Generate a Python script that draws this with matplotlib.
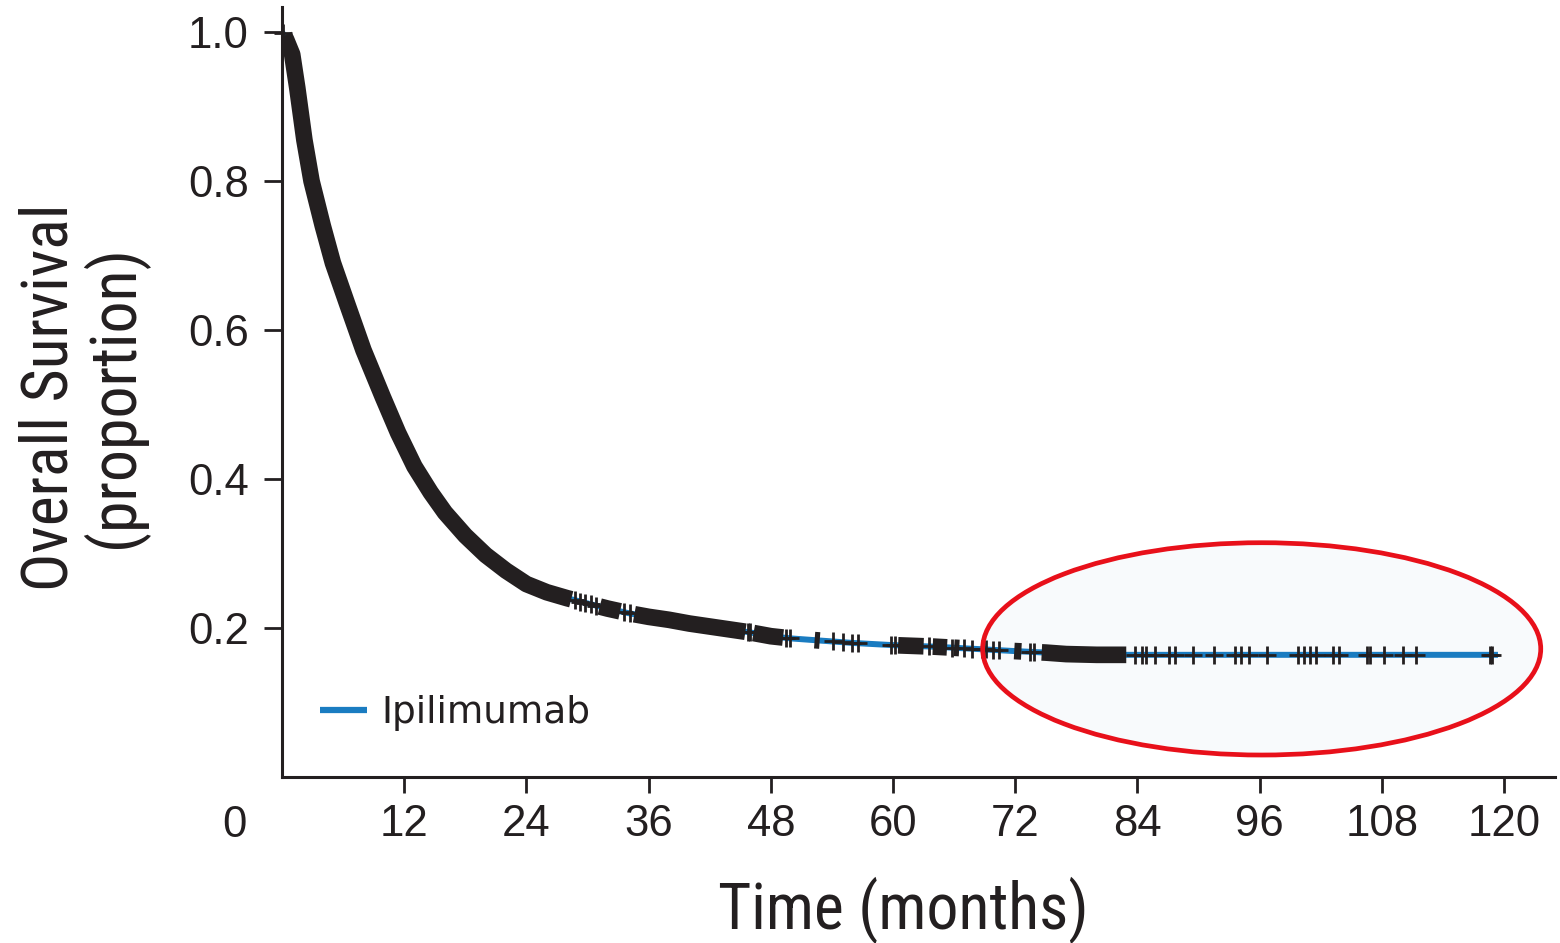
import numpy as np
import matplotlib
matplotlib.use("Agg")
import matplotlib.pyplot as plt
from matplotlib.patches import Ellipse
from matplotlib import font_manager

# Kaplan-Meier overall survival estimate (months, proportion alive)
time_months = [0, 0.4, 1.0, 1.5, 2.2, 2.9, 4.0, 5.0, 6.4, 8.0, 9.9, 11.4, 13.0,
               14.6, 16.0, 18.0, 20.0, 22.0, 24.0, 26.0, 28.0, 30.0, 32.0, 34.0,
               36.0, 38.0, 40.0, 42.0, 44.0, 46.0, 48.0, 50.0, 53.0, 56.0, 60.0,
               64.0, 68.0, 72.0, 75.0, 77.0, 80.0, 90.0, 100.0, 110.0, 119.4]
survival = [1.0, 0.99, 0.97, 0.925, 0.855, 0.80, 0.74, 0.69, 0.635, 0.573, 0.51,
            0.462, 0.417, 0.382, 0.355, 0.324, 0.298, 0.277, 0.259, 0.248, 0.240,
            0.233, 0.226, 0.220, 0.215, 0.211, 0.206, 0.202, 0.198, 0.194, 0.189,
            0.186, 0.183, 0.180, 0.177, 0.175, 0.172, 0.169, 0.167, 0.165, 0.164,
            0.164, 0.164, 0.164, 0.164]

# Stretches where censoring marks are so dense they merge into a solid band
dense_censor_spans = [(0.2, 28.4), (31.2, 33.2), (34.6, 45.5), (46.3, 49.2),
                      (52.3, 52.8), (60.5, 63.0), (63.9, 65.3), (66.0, 66.5),
                      (71.9, 72.6), (74.6, 82.9)]

# Individual censored observations
censor_times = [0.05, 28.8, 29.3, 29.8, 30.3, 30.8, 33.6, 34.2, 45.8, 46.0, 49.5,
                49.9, 54.1, 55.1, 56.0, 56.6, 59.8, 60.2, 63.5, 65.8, 67.0, 67.8,
                68.7, 69.1, 69.8, 70.4, 73.4, 73.8, 83.8, 84.4, 84.8, 85.7, 87.1,
                87.7, 89.5, 91.5, 93.6, 94.2, 95.0, 96.7, 99.8, 100.4, 100.9,
                101.5, 103.2, 103.8, 106.5, 106.8, 108.2, 110.1, 111.4, 118.6,
                118.8]

x_ticks = [12, 24, 36, 48, 60, 72, 84, 96, 108, 120]
y_ticks = [0.2, 0.4, 0.6, 0.8, 1.0]
y_tick_labels = ["0.2", "0.4", "0.6", "0.8", "1.0"]
series_label = "Ipilimumab"

# Highlighted long-term plateau (centre, width, height in data units)
plateau_center = (96.2, 0.172)
plateau_size = (54.8, 0.285)

BLUE = "#1a7cc1"
INK = "#231f20"
RED = "#e8101a"


def pick_family(candidates):
    names = {f.name for f in font_manager.fontManager.ttflist}
    for c in candidates:
        if c in names:
            return c
    return "DejaVu Sans"


narrow = pick_family(["Liberation Sans Narrow", "DejaVu Sans Condensed",
                      "Roboto Condensed", "Liberation Sans"])
plain = pick_family(["Liberation Sans", "Roboto", "DejaVu Sans"])

fig = plt.figure(figsize=(15.6, 9.43), dpi=100)
W, H = 1560, 943
ax = fig.add_axes([282 / W, (H - 777) / H, (1555 - 282) / W, (777 - 7) / H])
ax.set_xlim(0, 125.0)
ax.set_ylim(0, 1.0336)

t = np.asarray(time_months)
s = np.asarray(survival)

# plateau highlight: soft fill under the curve, red outline on top
ax.add_patch(Ellipse(plateau_center, *plateau_size, facecolor="#f8fafc",
                     edgecolor="none", zorder=0.5, clip_on=False))
ax.add_patch(Ellipse(plateau_center, *plateau_size, facecolor="none",
                     edgecolor=RED, linewidth=3.4, zorder=6, clip_on=False))

ax.plot(t, s, color=BLUE, linewidth=4.3, solid_capstyle="butt", zorder=2,
        label=series_label)

# merged censor bands following the curve
for a, b in dense_censor_spans:
    inner = t[(t > a) & (t < b)]
    seg_t = np.concatenate([[a], inner, [b]])
    seg_s = np.interp(seg_t, t, s)
    ax.plot(seg_t, seg_s, color=INK, linewidth=12, solid_capstyle="butt",
            solid_joinstyle="round", zorder=3)

ct = np.asarray(censor_times)
ax.plot(ct, np.interp(ct, t, s), linestyle="none", marker="+", markersize=12.5,
        markeredgewidth=2.0, color=INK, zorder=4, clip_on=False)

for side in ("top", "right"):
    ax.spines[side].set_visible(False)
for side in ("left", "bottom"):
    ax.spines[side].set_linewidth(2.2)
    ax.spines[side].set_color(INK)

ax.set_xticks(x_ticks)
ax.set_xticklabels([str(v) for v in x_ticks])
ax.set_yticks(y_ticks)
ax.set_yticklabels(y_tick_labels)
ax.tick_params(axis="x", length=11.5, width=2.0, color=INK, pad=8,
               labelsize=31.5, labelcolor=INK)
ax.tick_params(axis="y", length=13, width=2.0, color=INK, pad=11,
               labelsize=31.5, labelcolor=INK)
for lab in ax.get_xticklabels() + ax.get_yticklabels():
    lab.set_family(plain)

# origin label sits below-left of the corner
ax.annotate("0", xy=(0, 0), xycoords="data", xytext=(-48, -28),
            textcoords="offset pixels", ha="center", va="top", fontsize=31.5,
            family=plain, color=INK)

leg = ax.legend(loc="center left", bbox_to_anchor=(0.030, 0.083), frameon=False,
                borderpad=0, borderaxespad=0, handlelength=1.25,
                handletextpad=0.38, prop={"family": "DejaVu Sans", "size": 27})
for h in leg.get_lines():
    h.set_linewidth(4.5)
for txt in leg.get_texts():
    txt.set_color(INK)

fig.text(903 / W, 1 - 910 / H, "Time (months)", ha="center", va="center",
         fontsize=46, family=narrow, color=INK)
fig.text(83 / W, 1 - 397 / H, "Overall Survival\n(proportion)", rotation=90,
         ha="center", va="center", multialignment="center", linespacing=1.0,
         fontsize=46, family=narrow, color=INK)

fig.savefig("out.png", dpi=100, facecolor="white")
